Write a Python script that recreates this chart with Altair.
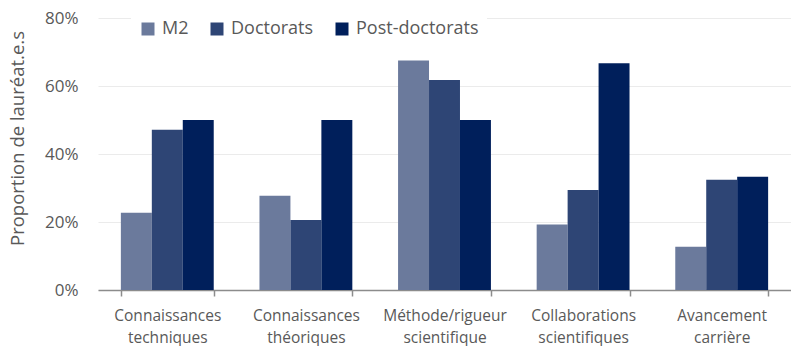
import altair as alt
import pandas as pd

# Skills gained, share of award winners per career stage
categories = [
    "Connaissances techniques",
    "Connaissances théoriques",
    "Méthode/rigueur scientifique",
    "Collaborations scientifiques",
    "Avancement carrière",
]
series = ["M2", "Doctorats", "Post-doctorats"]
m2 = [0.227, 0.277, 0.675, 0.193, 0.127]
doctorats = [0.471, 0.206, 0.618, 0.294, 0.324]
post_doctorats = [0.50, 0.50, 0.50, 0.667, 0.333]
colors = ["#6B7A9C", "#2E4575", "#001F5B"]

rows = []
for name, vals in zip(series, [m2, doctorats, post_doctorats]):
    for cat, v in zip(categories, vals):
        rows.append({"categorie": cat, "groupe": name, "valeur": v})
df = pd.DataFrame(rows)

FONT = "Open Sans"
GREY = "#595959"

chart = (
    alt.Chart(df)
    .mark_bar()
    .encode(
        x=alt.X(
            "categorie:N",
            sort=categories,
            title=None,
            scale=alt.Scale(paddingInner=0.33, paddingOuter=0.165),
            axis=alt.Axis(
                labelAngle=0,
                labelExpr="split(datum.label, ' ')",
                labelFontSize=15.5,
                labelColor=GREY,
                labelFont=FONT,
                labelLineHeight=22,
                labelPadding=12,
                tickBand="extent",
                tickSize=6,
                tickColor="#8C8C8C",
                tickWidth=1.5,
                domainColor="#8C8C8C",
                domainWidth=1.5,
                grid=False,
            ),
        ),
        xOffset=alt.XOffset("groupe:N", sort=series),
        y=alt.Y(
            "valeur:Q",
            title="Proportion de lauréat.e.s",
            scale=alt.Scale(domain=[0, 0.8]),
            axis=alt.Axis(
                format=".0%",
                values=[0, 0.2, 0.4, 0.6, 0.8],
                labelFontSize=17,
                labelColor=GREY,
                labelFont=FONT,
                labelPadding=20,
                ticks=False,
                domain=False,
                gridColor="#EBEBEB",
                gridWidth=1,
                titleFontSize=18.5,
                titleFontWeight="normal",
                titleColor=GREY,
                titleFont=FONT,
                titlePadding=17,
                titleY=120,
            ),
        ),
        color=alt.Color(
            "groupe:N",
            sort=series,
            scale=alt.Scale(domain=series, range=colors),
            legend=alt.Legend(
                title=None,
                orient="none",
                direction="horizontal",
                legendX=33,
                legendY=-6,
                padding=8,
                fillColor="white",
                symbolType="square",
                symbolSize=169,
                symbolStrokeWidth=0,
                labelFontSize=18,
                labelFont=FONT,
                labelColor=GREY,
                labelOffset=5,
                columnPadding=19,
            ),
        ),
    )
    .properties(
        width=693,
        height=272,
        autosize=alt.AutoSizeParams(type="none"),
        padding={"left": 98, "top": 18, "right": 0, "bottom": 56},
    )
    .configure_view(stroke=None)
)

chart.save("out.html", embed_options={"renderer": "svg", "actions": False})
